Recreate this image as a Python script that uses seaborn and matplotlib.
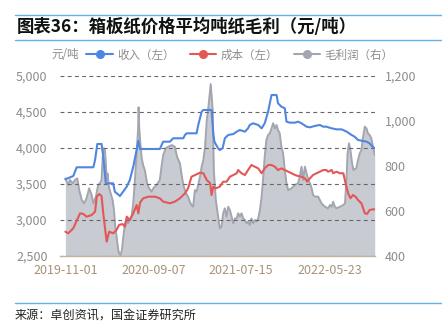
import matplotlib
matplotlib.use("Agg")
import matplotlib.pyplot as plt
from matplotlib.lines import Line2D
from matplotlib.ticker import FuncFormatter
import pandas as pd
import seaborn as sns

# ---- data (元/吨) ----
income_dates = [
    "2019-11-01", "2019-11-29", "2019-12-11", "2020-02-08", "2020-02-14", "2020-02-22",
    "2020-03-08", "2020-03-14", "2020-03-23", "2020-04-18", "2020-04-24", "2020-05-12",
    "2020-06-05", "2020-06-16", "2020-06-28", "2020-07-10", "2020-07-16", "2020-07-22",
    "2020-09-30", "2020-10-12", "2020-11-05", "2020-11-16", "2020-12-22", "2020-12-28",
    "2021-01-03", "2021-02-07", "2021-02-13", "2021-02-25", "2021-03-03", "2021-04-01",
    "2021-04-07", "2021-04-11", "2021-04-24", "2021-04-30", "2021-05-10", "2021-05-18",
    "2021-05-30", "2021-06-17", "2021-06-29", "2021-07-10", "2021-07-28", "2021-08-08",
    "2021-08-14", "2021-08-26", "2021-09-13", "2021-09-25", "2021-10-06", "2021-10-18",
    "2021-10-24", "2021-10-30", "2021-11-17", "2021-11-22", "2021-12-04", "2021-12-16",
    "2021-12-22", "2022-01-03", "2022-01-21", "2022-02-01", "2022-02-13", "2022-03-03",
    "2022-03-15", "2022-04-01", "2022-04-19", "2022-05-01", "2022-05-12", "2022-05-31",
    "2022-06-17", "2022-07-05", "2022-07-23", "2022-08-09", "2022-08-20", "2022-09-01",
    "2022-09-13", "2022-10-01", "2022-10-12", "2022-10-24", "2022-10-30",
]
income_values = [
    3565, 3611, 3732, 3732, 3833, 4056,
    4056, 3879, 3510, 3510, 3393, 3333,
    3463, 3556, 3740, 3972, 4101, 3986,
    3986, 4088, 4088, 4135, 4135, 4181,
    4204, 4204, 4320, 4505, 4528, 4528,
    4204, 4088, 3996, 3972, 3996, 4135,
    4181, 4194, 4227, 4250, 4227, 4273,
    4320, 4343, 4320, 4273, 4343, 4505,
    4621, 4736, 4736, 4621, 4574, 4551,
    4366, 4352, 4352, 4366, 4343, 4296,
    4287, 4306, 4320, 4296, 4296, 4273,
    4259, 4259, 4227, 4181, 4157, 4111,
    4102, 4088, 4065, 4009, 3996,
]

cost_dates = [
    "2019-11-01", "2019-11-11", "2019-11-29", "2019-12-23", "2020-01-03", "2020-01-15",
    "2020-02-02", "2020-02-14", "2020-02-20", "2020-02-29", "2020-03-08", "2020-03-14",
    "2020-03-21", "2020-03-26", "2020-04-04", "2020-04-18", "2020-04-30", "2020-05-09",
    "2020-05-21", "2020-05-30", "2020-06-05", "2020-06-16", "2020-06-28", "2020-07-10",
    "2020-07-16", "2020-07-22", "2020-08-02", "2020-08-20", "2020-09-13", "2020-09-30",
    "2020-10-12", "2020-11-05", "2020-11-22", "2020-12-10", "2020-12-28", "2021-01-08",
    "2021-01-20", "2021-02-19", "2021-03-03", "2021-03-15", "2021-03-27", "2021-04-01",
    "2021-04-07", "2021-04-16", "2021-04-30", "2021-05-12", "2021-05-24", "2021-06-05",
    "2021-06-17", "2021-06-29", "2021-07-04", "2021-07-16", "2021-07-28", "2021-08-08",
    "2021-08-20", "2021-09-01", "2021-09-13", "2021-09-25", "2021-10-06", "2021-10-18",
    "2021-10-30", "2021-11-11", "2021-11-22", "2021-12-04", "2021-12-16", "2021-12-28",
    "2022-01-09", "2022-01-21", "2022-02-01", "2022-02-13", "2022-02-25", "2022-03-05",
    "2022-03-15", "2022-03-26", "2022-04-07", "2022-04-19", "2022-05-01", "2022-05-12",
    "2022-05-18", "2022-05-31", "2022-06-05", "2022-06-17", "2022-06-29", "2022-07-11",
    "2022-07-19", "2022-07-28", "2022-08-05", "2022-08-14", "2022-08-23", "2022-09-01",
    "2022-09-13", "2022-09-25", "2022-10-03", "2022-10-12", "2022-10-24", "2022-10-30",
]
cost_values = [
    2838, 2815, 2885, 3093, 3085, 3046,
    3069, 3116, 3324, 3361, 3333, 3093,
    2861, 2699, 2838, 2815, 2861, 2931,
    2944, 2907, 3046, 3000, 3093, 3208,
    3093, 3241, 3301, 3324, 3324, 3301,
    3255, 3232, 3255, 3301, 3370, 3440,
    3601, 3657, 3649, 3555, 3510, 3347,
    3463, 3440, 3463, 3532, 3532, 3601,
    3625, 3649, 3694, 3649, 3625, 3694,
    3764, 3740, 3717, 3649, 3717, 3764,
    3764, 3740, 3694, 3717, 3694, 3671,
    3649, 3625, 3611, 3601, 3579, 3532,
    3579, 3625, 3649, 3671, 3694, 3694,
    3671, 3694, 3649, 3671, 3649, 3649,
    3510, 3371, 3301, 3347, 3324, 3278,
    3232, 3093, 3085, 3139, 3148, 3148,
]

profit_dates = [
    "2019-11-01", "2019-11-11", "2019-11-17", "2019-11-27", "2019-12-05", "2019-12-13",
    "2019-12-20", "2019-12-29", "2020-01-06", "2020-01-15", "2020-01-24", "2020-02-02",
    "2020-02-08", "2020-02-17", "2020-02-25", "2020-03-02", "2020-03-08", "2020-03-12",
    "2020-03-16", "2020-03-20", "2020-03-23", "2020-03-26", "2020-03-29", "2020-04-04",
    "2020-04-09", "2020-04-16", "2020-04-21", "2020-04-25", "2020-04-30", "2020-05-06",
    "2020-05-09", "2020-05-14", "2020-05-19", "2020-05-24", "2020-05-30", "2020-06-05",
    "2020-06-10", "2020-06-16", "2020-06-22", "2020-06-28", "2020-07-04", "2020-07-10",
    "2020-07-15", "2020-07-17", "2020-07-19", "2020-07-24", "2020-07-28", "2020-08-02",
    "2020-08-08", "2020-08-16", "2020-08-23", "2020-09-01", "2020-09-07", "2020-09-19",
    "2020-09-30", "2020-10-06", "2020-10-12", "2020-10-21", "2020-10-30", "2020-11-11",
    "2020-11-22", "2020-11-30", "2020-12-10", "2020-12-19", "2020-12-24", "2020-12-31",
    "2021-01-08", "2021-01-14", "2021-01-20", "2021-01-26", "2021-02-01", "2021-02-07",
    "2021-02-13", "2021-02-19", "2021-02-25", "2021-03-03", "2021-03-09", "2021-03-15",
    "2021-03-21", "2021-03-27", "2021-03-29", "2021-04-05", "2021-04-09", "2021-04-16",
    "2021-04-24", "2021-04-30", "2021-05-06", "2021-05-12", "2021-05-18", "2021-05-24",
    "2021-05-30", "2021-06-05", "2021-06-11", "2021-06-17", "2021-06-23", "2021-06-29",
    "2021-07-04", "2021-07-10", "2021-07-16", "2021-07-22", "2021-07-28", "2021-08-03",
    "2021-08-08", "2021-08-14", "2021-08-20", "2021-08-26", "2021-09-01", "2021-09-07",
    "2021-09-13", "2021-09-19", "2021-09-25", "2021-09-30", "2021-10-06", "2021-10-12",
    "2021-10-18", "2021-10-24", "2021-10-30", "2021-11-05", "2021-11-11", "2021-11-17",
    "2021-11-22", "2021-11-28", "2021-12-04", "2021-12-10", "2021-12-16", "2021-12-22",
    "2021-12-28", "2022-01-09", "2022-01-21", "2022-02-01", "2022-02-07", "2022-02-13",
    "2022-02-19", "2022-02-25", "2022-03-03", "2022-03-09", "2022-03-15", "2022-03-21",
    "2022-03-26", "2022-04-01", "2022-04-13", "2022-04-25", "2022-05-07", "2022-05-18",
    "2022-05-25", "2022-05-31", "2022-06-05", "2022-06-11", "2022-06-17", "2022-06-29",
    "2022-07-11", "2022-07-17", "2022-07-23", "2022-07-26", "2022-07-31", "2022-08-05",
    "2022-08-11", "2022-08-16", "2022-08-26", "2022-09-01", "2022-09-07", "2022-09-13",
    "2022-09-19", "2022-09-25", "2022-10-01", "2022-10-06", "2022-10-12", "2022-10-18",
    "2022-10-24", "2022-10-30",
]
profit_values = [
    745, 716, 738, 723, 738, 745,
    693, 649, 634, 656, 701, 671,
    634, 664, 716, 723, 738, 841,
    879, 871, 812, 738, 767, 701,
    679, 649, 604, 538, 486, 427,
    412, 404, 427, 486, 545, 567,
    545, 560, 575, 634, 738, 856,
    960, 1061, 975, 886, 834, 804,
    782, 723, 701, 686, 701, 716,
    738, 797, 849, 879, 886, 893,
    886, 841, 812, 738, 708, 679,
    664, 641, 627, 619, 693, 686,
    716, 752, 797, 827, 886, 1004,
    1064, 1138, 1164, 1049, 782, 649,
    575, 523, 530, 590, 612, 575,
    619, 604, 575, 545, 567, 567,
    590, 575, 590, 567, 560, 545,
    553, 538, 567, 545, 560, 553,
    567, 604, 664, 738, 841, 916,
    938, 945, 967, 990, 967, 982,
    960, 945, 886, 856, 782, 723,
    693, 701, 716, 723, 752, 797,
    738, 797, 767, 738, 723, 701,
    671, 664, 664, 634, 619, 612,
    627, 619, 641, 619, 612, 619,
    627, 634, 767, 856, 901, 871,
    812, 782, 790, 827, 856, 871,
    930, 975, 967, 945, 938, 923,
    886, 849,
]

x_tick_labels = ["2019-11-01", "2020-09-07", "2021-07-15", "2022-05-23"]
left_ticks = [2500, 3000, 3500, 4000, 4500, 5000]
right_ticks = [400, 600, 800, 1000, 1200]

series_names = ["收入（左）", "成本（左）", "毛利润（右）"]
title_text = "图表36：箱板纸价格平均吨纸毛利（元/吨）"
unit_text = "元/吨"
source_text = "来源：卓创资讯，国金证券研究所"

# ---- frames ----
income_df = pd.DataFrame({"date": pd.to_datetime(income_dates), "value": income_values})
cost_df = pd.DataFrame({"date": pd.to_datetime(cost_dates), "value": cost_values})
profit_df = pd.DataFrame({"date": pd.to_datetime(profit_dates), "value": profit_values})

# ---- style ----
sns.set_style("white")
plt.rcParams["font.family"] = ["Noto Sans CJK SC", "DejaVu Sans"]

BLUE = "#4f86e0"
RED = "#e35757"
GRAY_LINE = "#a3a6b0"
GRAY_FILL = "#c8cbd2"
TICK_GRAY = "#8c8c8c"
AXIS_TAN = "#c4b39c"
DATE_TAN = "#a8927a"
RULE_BLUE = "#5fb3e8"

fig = plt.figure(figsize=(4.42, 3.28), dpi=100)
ax = fig.add_axes([60 / 442, 1 - 256 / 328, 315 / 442, 180 / 328])
ax2 = ax.twinx()

# profit area on the secondary axis, kept underneath
ax2.fill_between(profit_df["date"], right_ticks[0], profit_df["value"],
                 color=GRAY_FILL, linewidth=0, zorder=1)
sns.lineplot(data=profit_df, x="date", y="value", ax=ax2, color=GRAY_LINE,
             linewidth=1.4, zorder=2, sort=False)

# income and cost on the primary axis
sns.lineplot(data=income_df, x="date", y="value", ax=ax, color=BLUE,
             linewidth=1.5, zorder=3, sort=False)
sns.lineplot(data=cost_df, x="date", y="value", ax=ax, color=RED,
             linewidth=1.5, zorder=3, sort=False)

ax.set_zorder(ax2.get_zorder() + 1)
ax.patch.set_visible(False)

# limits
ax.set_xlim(pd.Timestamp("2019-10-13"), pd.Timestamp("2022-10-31"))
ax.set_ylim(left_ticks[0], left_ticks[-1])
ax2.set_ylim(right_ticks[0], right_ticks[-1])

# ticks
ax.set_xticks(pd.to_datetime(x_tick_labels))
ax.set_xticklabels(x_tick_labels)
ax.set_yticks(left_ticks)
ax.yaxis.set_major_formatter(FuncFormatter(lambda v, p: f"{int(v):,}"))
ax2.set_yticks(right_ticks)
ax2.yaxis.set_major_formatter(FuncFormatter(lambda v, p: f"{int(v):,}"))

ax.tick_params(axis="x", colors=AXIS_TAN, labelcolor=DATE_TAN, labelsize=9,
               length=4, width=0.8, pad=2, direction="out")
ax.tick_params(axis="y", labelcolor=TICK_GRAY, labelsize=9, length=0, pad=9)
ax2.tick_params(axis="y", labelcolor=TICK_GRAY, labelsize=9, length=0, pad=7)

ax.set_xlabel("")
ax.set_ylabel("")
ax2.set_xlabel("")
ax2.set_ylabel("")

# grid
ax.yaxis.grid(True, linestyle=(0, (3.5, 3)), color="#666666", linewidth=0.8)
ax.xaxis.grid(False)
ax2.grid(False)

for a in (ax, ax2):
    for side in ("left", "right", "top", "bottom"):
        a.spines[side].set_visible(False)
ax.spines["bottom"].set_visible(True)
ax.spines["bottom"].set_color(AXIS_TAN)
ax.spines["bottom"].set_linewidth(1.0)

# legend
handles = [
    Line2D([], [], color=BLUE, lw=1.5, marker="o", markersize=5.5),
    Line2D([], [], color=RED, lw=1.5, marker="o", markersize=5.5),
    Line2D([], [], color=GRAY_LINE, lw=1.5, marker="o", markersize=5.5),
]
leg = fig.legend(handles, series_names, loc="center", ncol=3,
                 bbox_to_anchor=(240 / 442, 1 - 55 / 328), frameon=False,
                 fontsize=8.3, handlelength=2.3, handletextpad=0.4,
                 columnspacing=1.3, borderpad=0, borderaxespad=0)
for t in leg.get_texts():
    t.set_color(TICK_GRAY)

fig.text(51 / 442, 1 - 55 / 328, unit_text, ha="left", va="center",
         fontsize=8.3, color=TICK_GRAY)

# title and source
fig.text(17 / 442, 1 - 27 / 328, title_text, ha="left", va="center",
         fontsize=12.5, fontweight="bold", color="#111111")
fig.text(15 / 442, 1 - 315 / 328, source_text, ha="left", va="center",
         fontsize=8.7, color="#222222")

for ypix in (15, 40, 303):
    fig.add_artist(Line2D([15 / 442, 1.0], [1 - ypix / 328, 1 - ypix / 328],
                          transform=fig.transFigure, color=RULE_BLUE, lw=1.0))

fig.savefig("out.png", dpi=100)
